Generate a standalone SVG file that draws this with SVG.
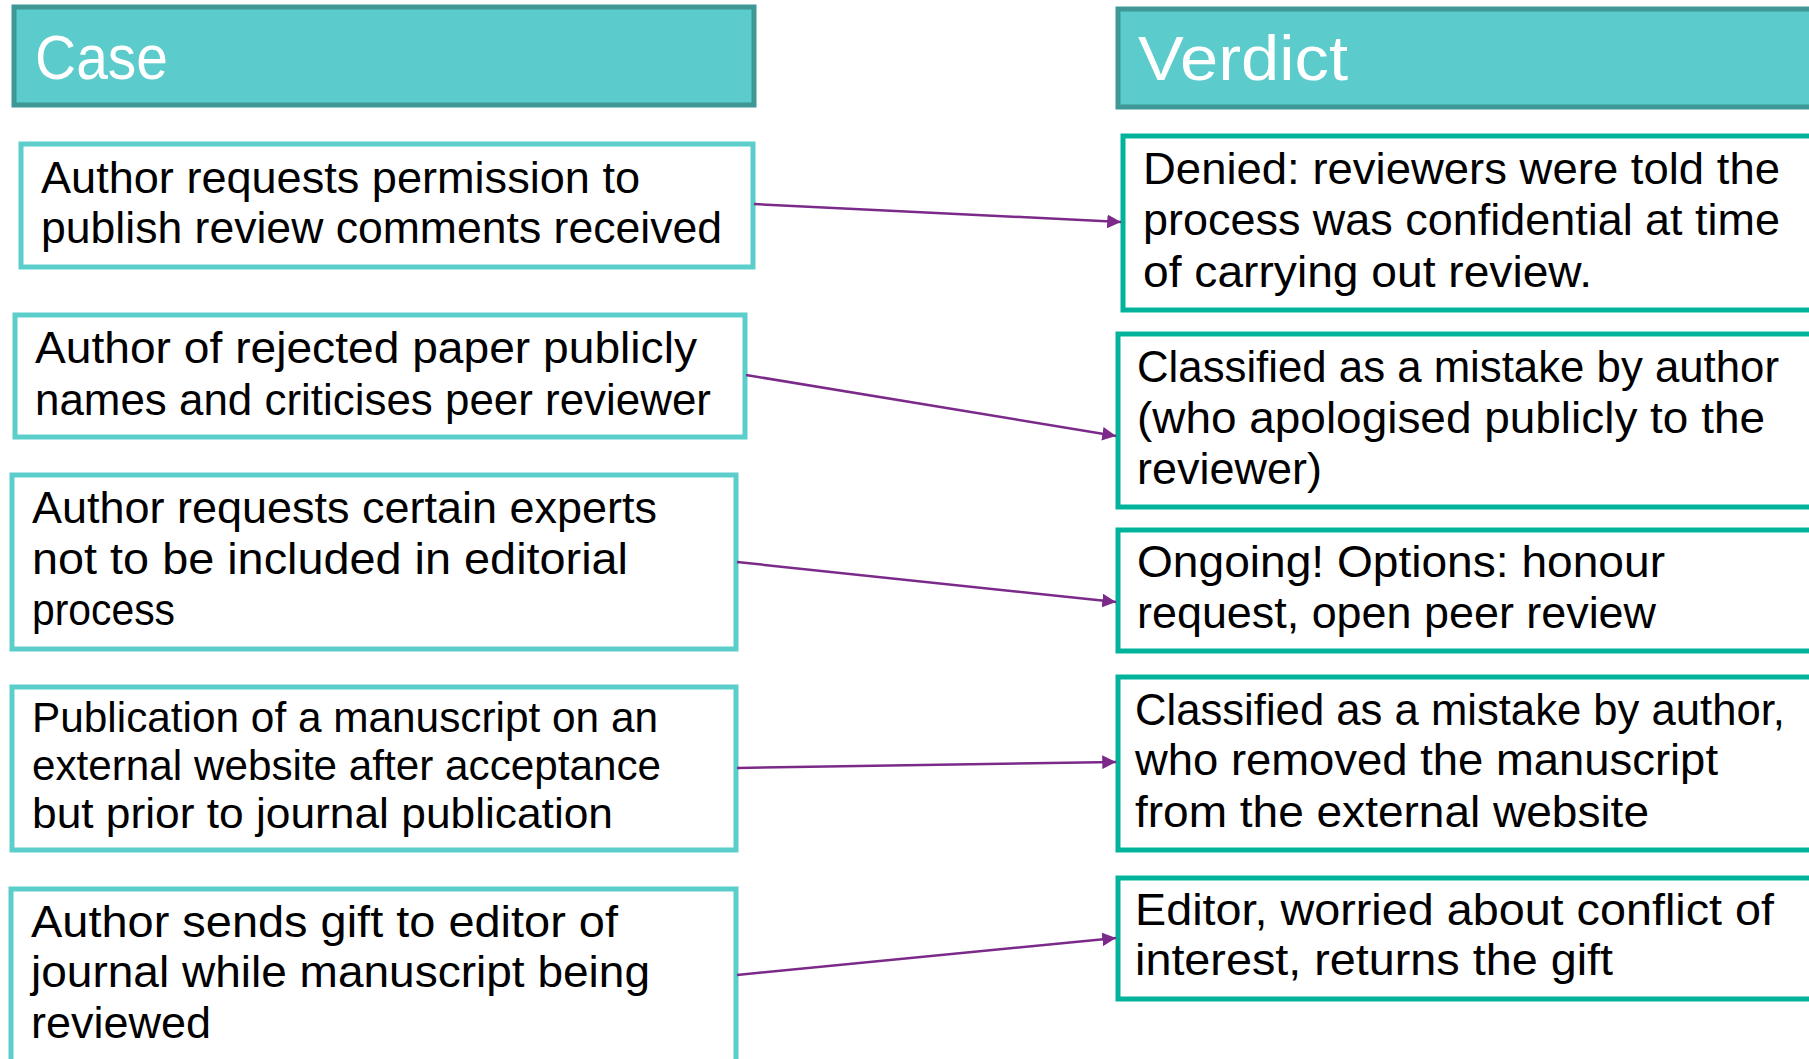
<svg xmlns="http://www.w3.org/2000/svg" width="1809" height="1059" viewBox="0 0 1809 1059">
<style>
.hdr{fill:#5BCBCB;stroke:#3F9896;stroke-width:5}
.hdrt{font-family:"Liberation Sans",Arial,sans-serif;font-size:63px;fill:#FFFFFF}
.case{fill:#FFFFFF;stroke:#5BCDCB;stroke-width:5}
.verd{fill:#FFFFFF;stroke:#00B39A;stroke-width:5}
.t{font-family:"Liberation Sans",Arial,sans-serif;font-size:44.5px;fill:#000000}
.conn{stroke:#7B2A8A;stroke-width:2.5;fill:none;marker-end:url(#ah)}
</style>
<defs>
<marker id="ah" viewBox="0 0 10 10" refX="10" refY="5" markerWidth="5.5" markerHeight="5.5" orient="auto" markerUnits="strokeWidth">
<path d="M0,0 L10,5 L0,10 z" fill="#7B2A8A"/>
</marker>
</defs>
<rect width="1809" height="1059" fill="#FFFFFF"/>
<g id="header-case">
<rect class="hdr" x="14" y="7" width="740" height="98"/>
<text class="hdrt" x="35" y="79" textLength="133" lengthAdjust="spacingAndGlyphs">Case</text>
</g>
<g id="header-verdict">
<rect class="hdr" x="1118" y="9" width="700" height="98"/>
<text class="hdrt" x="1138" y="80" textLength="210" lengthAdjust="spacingAndGlyphs">Verdict</text>
</g>
<g id="case1">
<rect class="case" x="21" y="144" width="732" height="123"/>
<text class="t" x="41" y="193" textLength="599" lengthAdjust="spacingAndGlyphs">Author requests permission to</text>
<text class="t" x="41" y="243" textLength="681" lengthAdjust="spacingAndGlyphs">publish review comments received</text>
</g>
<g id="case2">
<rect class="case" x="15" y="315" width="730" height="122"/>
<text class="t" x="35" y="363" textLength="662" lengthAdjust="spacingAndGlyphs">Author of rejected paper publicly</text>
<text class="t" x="35" y="415" textLength="676" lengthAdjust="spacingAndGlyphs">names and criticises peer reviewer</text>
</g>
<g id="case3">
<rect class="case" x="12" y="475" width="724" height="174"/>
<text class="t" x="32" y="523" textLength="625" lengthAdjust="spacingAndGlyphs">Author requests certain experts</text>
<text class="t" x="32" y="574" textLength="596" lengthAdjust="spacingAndGlyphs">not to be included in editorial</text>
<text class="t" x="32" y="625" textLength="143" lengthAdjust="spacingAndGlyphs">process</text>
</g>
<g id="case4">
<rect class="case" x="12" y="687" width="724" height="163"/>
<text class="t" x="32" y="732" style="font-size:42.5px" textLength="626" lengthAdjust="spacingAndGlyphs">Publication of a manuscript on an</text>
<text class="t" x="32" y="780" style="font-size:42.5px" textLength="629" lengthAdjust="spacingAndGlyphs">external website after acceptance</text>
<text class="t" x="32" y="828" style="font-size:42.5px" textLength="581" lengthAdjust="spacingAndGlyphs">but prior to journal publication</text>
</g>
<g id="case5">
<rect class="case" x="11" y="889" width="725" height="190"/>
<text class="t" x="31" y="937" textLength="587" lengthAdjust="spacingAndGlyphs">Author sends gift to editor of</text>
<text class="t" x="31" y="987" textLength="619" lengthAdjust="spacingAndGlyphs">journal while manuscript being</text>
<text class="t" x="31" y="1038" textLength="180" lengthAdjust="spacingAndGlyphs">reviewed</text>
</g>
<g id="verdict1">
<rect class="verd" x="1123" y="136" width="700" height="174"/>
<text class="t" x="1143" y="184" textLength="637" lengthAdjust="spacingAndGlyphs">Denied: reviewers were told the</text>
<text class="t" x="1143" y="235" textLength="637" lengthAdjust="spacingAndGlyphs">process was confidential at time</text>
<text class="t" x="1143" y="287" textLength="449" lengthAdjust="spacingAndGlyphs">of carrying out review.</text>
</g>
<g id="verdict2">
<rect class="verd" x="1118" y="334" width="700" height="173"/>
<text class="t" x="1137" y="382" textLength="642" lengthAdjust="spacingAndGlyphs">Classified as a mistake by author</text>
<text class="t" x="1137" y="433" textLength="628" lengthAdjust="spacingAndGlyphs">(who apologised publicly to the</text>
<text class="t" x="1137" y="484" textLength="185" lengthAdjust="spacingAndGlyphs">reviewer)</text>
</g>
<g id="verdict3">
<rect class="verd" x="1118" y="530" width="700" height="121"/>
<text class="t" x="1137" y="577" textLength="528" lengthAdjust="spacingAndGlyphs">Ongoing! Options: honour</text>
<text class="t" x="1137" y="628" textLength="519" lengthAdjust="spacingAndGlyphs">request, open peer review</text>
</g>
<g id="verdict4">
<rect class="verd" x="1118" y="677" width="700" height="173"/>
<text class="t" x="1135" y="725" textLength="650" lengthAdjust="spacingAndGlyphs">Classified as a mistake by author,</text>
<text class="t" x="1135" y="775" textLength="583" lengthAdjust="spacingAndGlyphs">who removed the manuscript</text>
<text class="t" x="1135" y="827" textLength="514" lengthAdjust="spacingAndGlyphs">from the external website</text>
</g>
<g id="verdict5">
<rect class="verd" x="1118" y="878" width="700" height="121"/>
<text class="t" x="1135" y="925" textLength="639" lengthAdjust="spacingAndGlyphs">Editor, worried about conflict of</text>
<text class="t" x="1135" y="975" textLength="478" lengthAdjust="spacingAndGlyphs">interest, returns the gift</text>
</g>
<g id="connectors">
<line class="conn" x1="754" y1="204" x2="1121" y2="222"/>
<line class="conn" x1="746" y1="375" x2="1116" y2="436"/>
<line class="conn" x1="737" y1="562" x2="1116" y2="602"/>
<line class="conn" x1="737" y1="768" x2="1116" y2="762"/>
<line class="conn" x1="737" y1="975" x2="1116" y2="938"/>
</g>
</svg>
